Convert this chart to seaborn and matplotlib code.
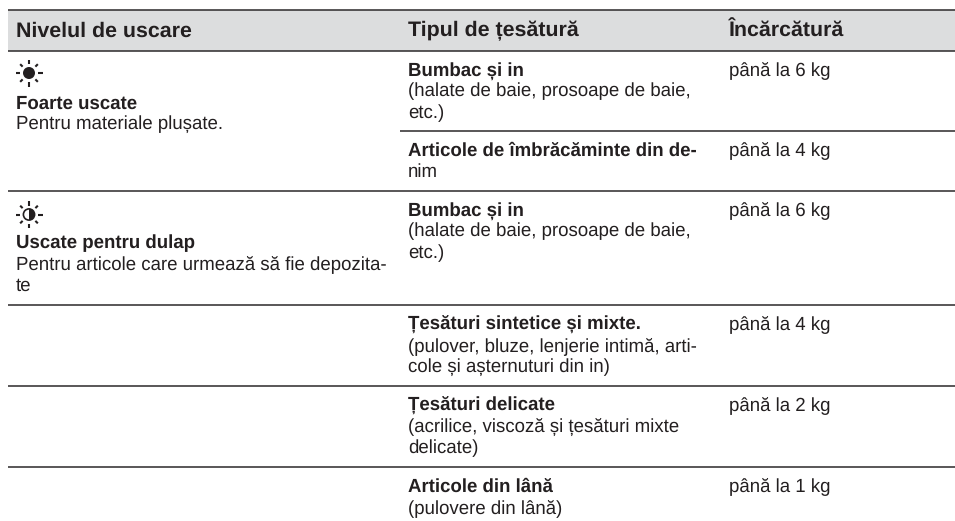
import numpy as np
import seaborn as sns
import matplotlib.pyplot as plt
from matplotlib.patches import Circle, Wedge

headers = ["Nivelul de uscare", "Tipul de țesătură", "Încărcătură"]

levels = [
    ("Foarte uscate", ["Pentru materiale plușate."]),
    ("Uscate pentru dulap", ["Pentru articole care urmează să fie depozita-", "te"]),
]

fabrics = [
    ("Bumbac și in", ["(halate de baie, prosoape de baie,", "etc.)"]),
    ("Articole de îmbrăcăminte din de-", ["nim"]),
    ("Bumbac și in", ["(halate de baie, prosoape de baie,", "etc.)"]),
    ("Țesături sintetice și mixte.", ["(pulover, bluze, lenjerie intimă, arti-", "cole și așternuturi din in)"]),
    ("Țesături delicate", ["(acrilice, viscoză și țesături mixte", "delicate)"]),
    ("Articole din lână", ["(pulovere din lână)"]),
]

loads = ["până la 6 kg", "până la 4 kg", "până la 6 kg", "până la 4 kg", "până la 2 kg", "până la 1 kg"]

# layout, in pixels of the 955x521 picture
col_x = [16, 408, 728.5]
rule_y = [10, 50.5, 131, 190.5, 305, 386, 467]
rule_x0 = [8, 8, 400, 8, 8, 8, 8]
level_rows = [1, 3]
fabric_rows = [1, 2, 3, 4, 5, 6]
ink = "#231f20"
rule_col = "#333132"

sns.set_theme(style="white")
plt.rcParams["font.family"] = ["Liberation Sans", "DejaVu Sans"]
plt.rcParams["text.hinting"] = "no_hinting"
plt.rcParams["text.hinting_factor"] = 8

fig = plt.figure(figsize=(9.55, 5.21), dpi=100)
ax = fig.add_axes([0, 0, 1, 1])

ax.fill_between([8, 955], rule_y[0], rule_y[1], color="#dcddde", lw=0, zorder=0)

for y, x0 in zip(rule_y, rule_x0):
    sns.lineplot(x=[x0, 955], y=[y, y], ax=ax, color=rule_col, linewidth=1.15,
                 solid_capstyle="butt", legend=False, errorbar=None)

ax.set_xlim(0, 955)
ax.set_ylim(521, 0)
ax.axis("off")

for x, h in zip(col_x, headers):
    ax.text(x, 36.5, h, fontsize=15.4, fontweight="bold", color=ink, va="baseline")


def block(x, y, title, lines):
    ax.text(x, y + 0.5, title, fontsize=13.4, fontweight="bold", color=ink, va="baseline")
    for i, line in enumerate(lines):
        ax.text(x, y + 21.3 * (i + 1), line, fontsize=13.4, color=ink, va="baseline")


for row, (title, lines), load in zip(fabric_rows, fabrics, loads):
    block(col_x[1], rule_y[row] + 24.5, title, lines)
    ax.text(col_x[2], rule_y[row] + 24.5, load, fontsize=13.4, color=ink, va="baseline")

for row, (title, lines) in zip(level_rows, levels):
    block(col_x[0], rule_y[row] + 57.5, title, lines)


def sun(cx, cy, half):
    if half:
        ax.add_patch(Circle((cx, cy), 5.6, fc="white", ec=ink, lw=1.2))
        # y axis is flipped, the wedge runs over the right side
        ax.add_patch(Wedge((cx, cy), 5.6, -90, 90, fc=ink, lw=0))
    else:
        ax.add_patch(Circle((cx, cy), 6, fc=ink, lw=0))
    for k, a in enumerate(np.arange(8) * np.pi / 4):
        outer = 13.5 if k % 2 == 0 else 12.5
        ax.plot([cx + 9 * np.cos(a), cx + outer * np.cos(a)],
                [cy + 9 * np.sin(a), cy + outer * np.sin(a)],
                color=ink, lw=1.5, solid_capstyle="butt")


sun(29, 73, False)
sun(29, 214.5, True)

fig.savefig("out.png", dpi=100)
